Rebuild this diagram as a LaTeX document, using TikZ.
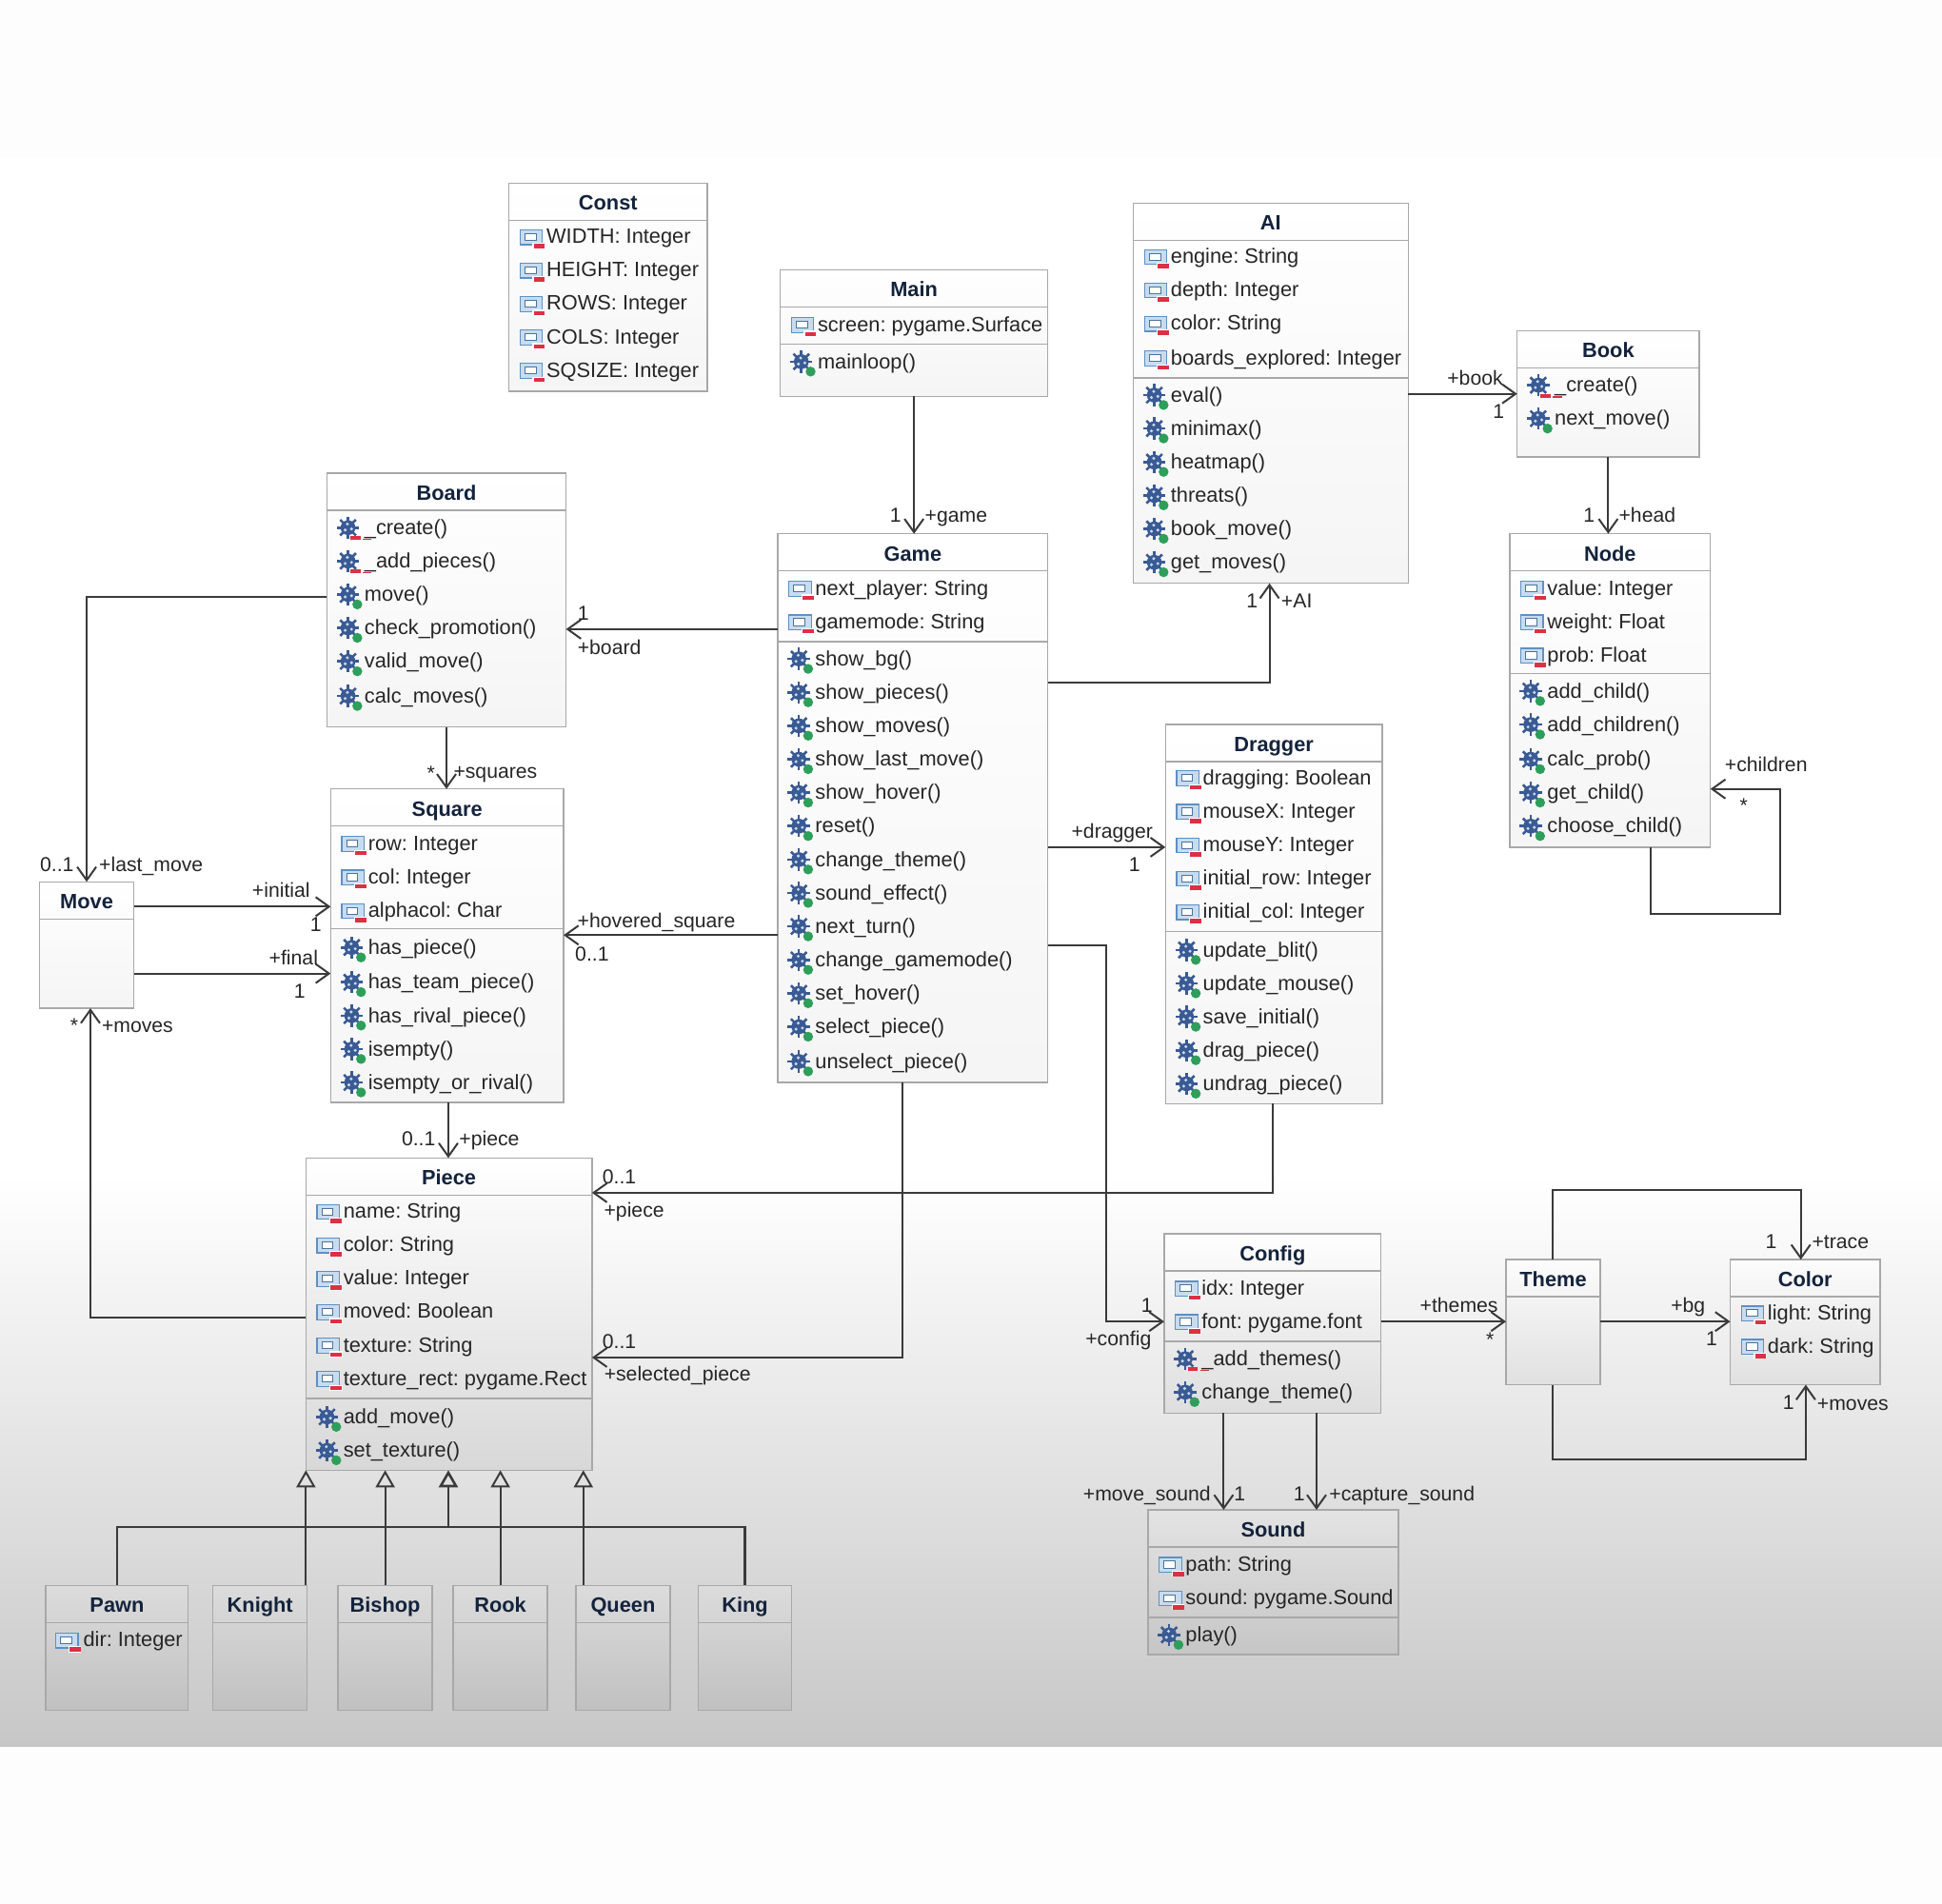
\documentclass[tikz,border=0pt]{standalone}
\usepackage{fontspec}
\setmainfont{Liberation Sans}
\usetikzlibrary{arrows.meta}
\definecolor{navy}{HTML}{14233C}
\definecolor{ink}{HTML}{262626}
\definecolor{wire}{HTML}{3A3A3A}
\definecolor{edge}{HTML}{A8A8A8}
\definecolor{iconblue}{HTML}{5F90C2}
\definecolor{iconfill}{HTML}{C8DCEF}
\definecolor{gearblue}{HTML}{3A5A94}
\definecolor{pubgreen}{HTML}{2E9E5B}
\definecolor{privred}{HTML}{DC3045}
\tikzset{
  classbody/.style={draw=edge,line width=0.7pt,inner sep=0pt,outer sep=0pt},
  compline/.style={draw=edge,line width=0.7pt},
  classtitle/.style={inner sep=0pt,text=navy,text height=8pt,text depth=2.5pt,font=\fontsize{10.9}{13}\selectfont\bfseries},
  rowtext/.style={anchor=west,inner sep=0pt,text=ink,text height=8pt,text depth=2.5pt,font=\fontsize{10.9}{13}\selectfont\frenchspacing},
  assoclabel/.style={inner sep=0pt,text=ink,text height=8pt,text depth=2.5pt,font=\fontsize{10.6}{13}\selectfont\frenchspacing},
  assoc/.style={draw=wire,line width=1pt,-{Straight Barb[length=7pt,width=10pt]}},
  inherit/.style={draw=wire,line width=1pt,-{Triangle[open,length=9pt,width=10pt]}},
  trunk/.style={draw=wire,line width=1.3pt},
  attrico/.pic={
    \draw[iconblue,fill=iconfill,line width=0.6pt] (-9,-6.5) rectangle (9,5.5);
    \draw[iconblue!80!black,fill=white,line width=0.5pt] (-5,-3.5) rectangle (4,2);
    \fill[white] (1,4) rectangle (11.5,9);
    \fill[privred] (2,5) rectangle (11,8.5);
  },
  gearico/.pic={
    \foreach \a in {0,45,...,315}{%
      \draw[gearblue,line width=1.3pt] (-1,-1) ++(\a:5) -- ++(\a:4);
    }
    \fill[gearblue] (-1,-1) circle (6);
    \foreach \a in {20,140,260}{%
      \fill[iconfill] (-1,-1) ++(\a:3) circle (1.3);
    }
  },
  methico/.pic={
    \pic {gearico};
    \fill[pubgreen] (6.5,7) circle (4);
  },
  privico/.pic={
    \pic {gearico};
    \fill[privred] (1,6) rectangle (9,9);
    \fill[privred] (11,8) rectangle (18,9);
  }
}
\newcommand{\classbox}[6]{%
  \pgfmathsetlengthmacro{\bw}{(#5-#3)*0.6505pt}
  \pgfmathsetlengthmacro{\bh}{(#6-#4)*0.6505pt}
  \pgfmathsetmacro{\tp}{min(100,102-max(0,#4-950)*0.0478)}
  \pgfmathsetmacro{\bt}{96-max(0,#6-950)*0.0478}
  \node[classbody,top color=white!\tp!black,bottom color=white!\bt!black,minimum width=\bw,minimum height=\bh]
    (#1) at ({(#3+#5)/2},{(#4+#6)/2}) {};
  \node[classtitle] (#1-title) at ({(#3+#5)/2},#4+17.5) {#2};
  \draw[compline] (#1.west |- 0,#4+30) -- (#1.east |- 0,#4+30);
}
\newcommand{\sepline}[2]{\draw[compline] (#1.west |- 0,#2) -- (#1.east |- 0,#2);}
\newcommand{\attrrows}[3]{%
  \foreach \ry/\txt [count=\i] in {#3}{%
    \pic at (#2+18,\ry+1) {attrico};
    \node[rowtext] (#1-a\i) at (#2+30,\ry+1.3) {\txt};
  }
}
\newcommand{\methrows}[3]{%
  \foreach \ry/\txt [count=\i] in {#3}{%
    \pic at (#2+18,\ry+1) {methico};
    \node[rowtext] (#1-m\i) at (#2+30,\ry+1.3) {\txt};
  }
}
\newcommand{\privrows}[3]{%
  \foreach \ry/\txt [count=\i] in {#3}{%
    \pic at (#2+18,\ry+1) {privico};
    \node[rowtext] (#1-p\i) at (#2+30,\ry+1.3) {\txt};
  }
}
\begin{document}
\begin{tikzpicture}[x=0.6505pt,y=-0.6505pt]
  \useasboundingbox (0,0) rectangle (1568,1537.25);
  \fill[white!99.4!black] (0,0) rectangle (1568,1537.25);
  \fill[white] (0,127) rectangle (1568,950);
  \shade[top color=white,bottom color=white!78!black] (0,950) rectangle (1568,1410);

  \classbox{const}{Const}{411}{148}{571}{316}
  \attrrows{const}{411}{191/WIDTH: Integer,218/HEIGHT: Integer,245/ROWS: Integer,272/COLS: Integer,299/SQSIZE: Integer}

  \classbox{main}{Main}{630}{218}{846}{320}
  \attrrows{main}{630}{262/screen: pygame.Surface}
  \sepline{main}{278}
  \methrows{main}{630}{292/mainloop()}

  \classbox{ai}{AI}{915}{164}{1137}{471}
  \attrrows{ai}{915}{207/engine: String,234/depth: Integer,261/color: String,289/boards\_explored: Integer}
  \sepline{ai}{305}
  \methrows{ai}{915}{319/eval(),346/minimax(),373/heatmap(),400/threats(),427/book\_move(),454/get\_moves()}

  \classbox{book}{Book}{1225}{267}{1372}{369}
  \privrows{book}{1225}{311/\_create()}
  \methrows{book}{1225}{338/next\_move()}

  \classbox{node}{Node}{1219}{431}{1381}{684}
  \attrrows{node}{1219}{475/value: Integer,502/weight: Float,529/prob: Float}
  \sepline{node}{544}
  \methrows{node}{1219}{558/add\_child(),585/add\_children(),613/calc\_prob(),640/get\_child(),667/choose\_child()}

  \classbox{board}{Board}{264}{382}{457}{587}
  \privrows{board}{264}{426/\_create(),453/\_add\_pieces()}
  \methrows{board}{264}{480/move(),507/check\_promotion(),534/valid\_move(),562/calc\_moves()}

  \classbox{game}{Game}{628}{431}{846}{874}
  \attrrows{game}{628}{475/next\_player: String,502/gamemode: String}
  \sepline{game}{518}
  \methrows{game}{628}{532/show\_bg(),559/show\_pieces(),586/show\_moves(),613/show\_last\_move(),640/show\_hover(),667/reset(),694/change\_theme(),721/sound\_effect(),748/next\_turn(),775/change\_gamemode(),802/set\_hover(),829/select\_piece(),857/unselect\_piece()}

  \classbox{square}{Square}{267}{637}{455}{890}
  \attrrows{square}{267}{681/row: Integer,708/col: Integer,735/alphacol: Char}
  \sepline{square}{750}
  \methrows{square}{267}{765/has\_piece(),793/has\_team\_piece(),820/has\_rival\_piece(),847/isempty(),874/isempty\_or\_rival()}

  \classbox{dragger}{Dragger}{941}{585}{1116}{891}
  \attrrows{dragger}{941}{628/dragging: Boolean,655/mouseX: Integer,682/mouseY: Integer,709/initial\_row: Integer,736/initial\_col: Integer}
  \sepline{dragger}{752}
  \methrows{dragger}{941}{767/update\_blit(),794/update\_mouse(),821/save\_initial(),848/drag\_piece(),875/undrag\_piece()}

  \classbox{move}{Move}{32}{712}{108}{814}

  \classbox{piece}{Piece}{247}{935}{478}{1187}
  \attrrows{piece}{247}{978/name: String,1005/color: String,1032/value: Integer,1059/moved: Boolean,1086/texture: String,1113/texture\_rect: pygame.Rect}
  \sepline{piece}{1129}
  \methrows{piece}{247}{1144/add\_move(),1171/set\_texture()}

  \classbox{config}{Config}{940}{996}{1115}{1141}
  \attrrows{config}{940}{1040/idx: Integer,1067/font: pygame.font}
  \sepline{config}{1083}
  \privrows{config}{940}{1097/\_add\_themes()}
  \methrows{config}{940}{1124/change\_theme()}

  \classbox{theme}{Theme}{1216}{1017}{1292}{1118}
  \classbox{color}{Color}{1397}{1017}{1518}{1118}
  \attrrows{color}{1397}{1060/light: String,1087/dark: String}

  \classbox{sound}{Sound}{927}{1219}{1129}{1336}
  \attrrows{sound}{927}{1263/path: String,1290/sound: pygame.Sound}
  \sepline{sound}{1306}
  \methrows{sound}{927}{1320/play()}

  \classbox{pawn}{Pawn}{37}{1280}{152}{1381}
  \pic at (54,1325) {attrico};
  \node[rowtext] (pawn-a1) at (67,1325.3) {dir: Integer};
  \classbox{knight}{Knight}{172}{1280}{248}{1381}
  \classbox{bishop}{Bishop}{273}{1280}{349}{1381}
  \classbox{rook}{Rook}{366}{1280}{442}{1381}
  \classbox{queen}{Queen}{465}{1280}{541}{1381}
  \classbox{king}{King}{564}{1280}{639}{1381}

  \draw[assoc] (main.south) -- (main.south |- game.north);
  \draw[assoc] (ai.east |- book.west) -- (book.west);
  \draw[assoc] (book.south) -- (book.south |- node.north);
  \draw[assoc] (0,551 -| game.east) -- (1025,551) -- (1025,0 |- ai.south);
  \draw[assoc] (0,508 -| game.west) -- (0,508 -| board.east);
  \draw[assoc] (board.south) -- (board.south |- square.north);
  \draw[assoc] (0,482 -| board.west) -- (70,482) -- (70,0 |- move.north);
  \draw[assoc] (0,732 -| move.east) -- (0,732 -| square.west);
  \draw[assoc] (0,786 -| move.east) -- (0,786 -| square.west);
  \draw[assoc] (0,1064 -| piece.west) -- (73,1064) -- (73,0 |- move.south);
  \draw[assoc] (0,755 -| game.west) -- (0,755 -| square.east);
  \draw[assoc] (0,684 -| game.east) -- (0,684 -| dragger.west);
  \draw[assoc] (0,763 -| game.east) -- (893,763) -- (893,1067) -- (0,1067 -| config.west);
  \draw[assoc] (362,0 |- square.south) -- (362,0 |- piece.north);
  \draw[assoc] (1028,0 |- dragger.south) -- (1028,963) -- (0,963 -| piece.east);
  \draw[assoc] (729,0 |- game.south) -- (729,1096) -- (0,1096 -| piece.east);
  \draw[assoc] (1333,0 |- node.south) -- (1333,738) -- (1437,738) -- (1437,637) -- (0,637 -| node.east);
  \draw[assoc] (config.east |- 0,1067) -- (0,1067 -| theme.west);
  \draw[assoc] (theme.east |- 0,1067) -- (0,1067 -| color.west);
  \draw[assoc] (theme.north) -- (1254,961) -- (1454,961) -- (1454,0 |- color.north);
  \draw[assoc] (theme.south) -- (1254,1178) -- (1458,1178) -- (1458,0 |- color.south);
  \draw[assoc] (988,0 |- config.south) -- (988,0 |- sound.north);
  \draw[assoc] (1063,0 |- config.south) -- (1063,0 |- sound.north);

  \draw[trunk] (pawn.north) -- (pawn.north |- 0,1233) -- (king.north |- 0,1233) -- (king.north);
  \draw[inherit,line width=1.3pt] (362,1233) -- (362,0 |- piece.south);
  \draw[inherit] (247,0 |- knight.north) -- (247,0 |- piece.south);
  \draw[inherit] (bishop.north) -- (bishop.north |- piece.south);
  \draw[inherit] (rook.north) -- (rook.north |- piece.south);
  \draw[inherit] (471,0 |- queen.north) -- (471,0 |- piece.south);

  \foreach \px/\py/\lbl [count=\i] in {723/417.5/1,772/417.5/+game,1191/306.5/+book,1210/333.5/1,1283/417.5/1,1330/417.5/+head,
    1011/486.5/1,1047/486.5/+AI,471/496.5/1,492/524.5/+board,348/626/*,400/624.5/+squares,46/699.5/0..1,122/699.5/+last\_move,
    227/720.5/+initial,255/747.5/1,237/774.5/+final,242/801.5/1,60/829/*,111/829.5/+moves,530/744.5/+hovered\_square,478/771.5/0..1,
    898/672.5/+dragger,916/699.5/1,926/1055.5/1,903/1082.5/+config,338/920.5/0..1,395/920.5/+piece,500/951.5/0..1,512/978.5/+piece,
    500/1084.5/0..1,547/1110.5/+selected\_piece,1426/618.5/+children,1408/652/*,1178/1055.5/+themes,1203/1083/*,1363/1055.5/+bg,
    1382/1082.5/1,1430/1003.5/1,1486/1003.5/+trace,1444/1133.5/1,1496/1134.5/+moves,926/1207.5/+move\_sound,1001/1207.5/1,1049/1207.5/1,
    1132/1207.5/+capture\_sound}{%
    \node[assoclabel] (lab-\i) at (\px,\py) {\lbl};
  }
\end{tikzpicture}
\end{document}
